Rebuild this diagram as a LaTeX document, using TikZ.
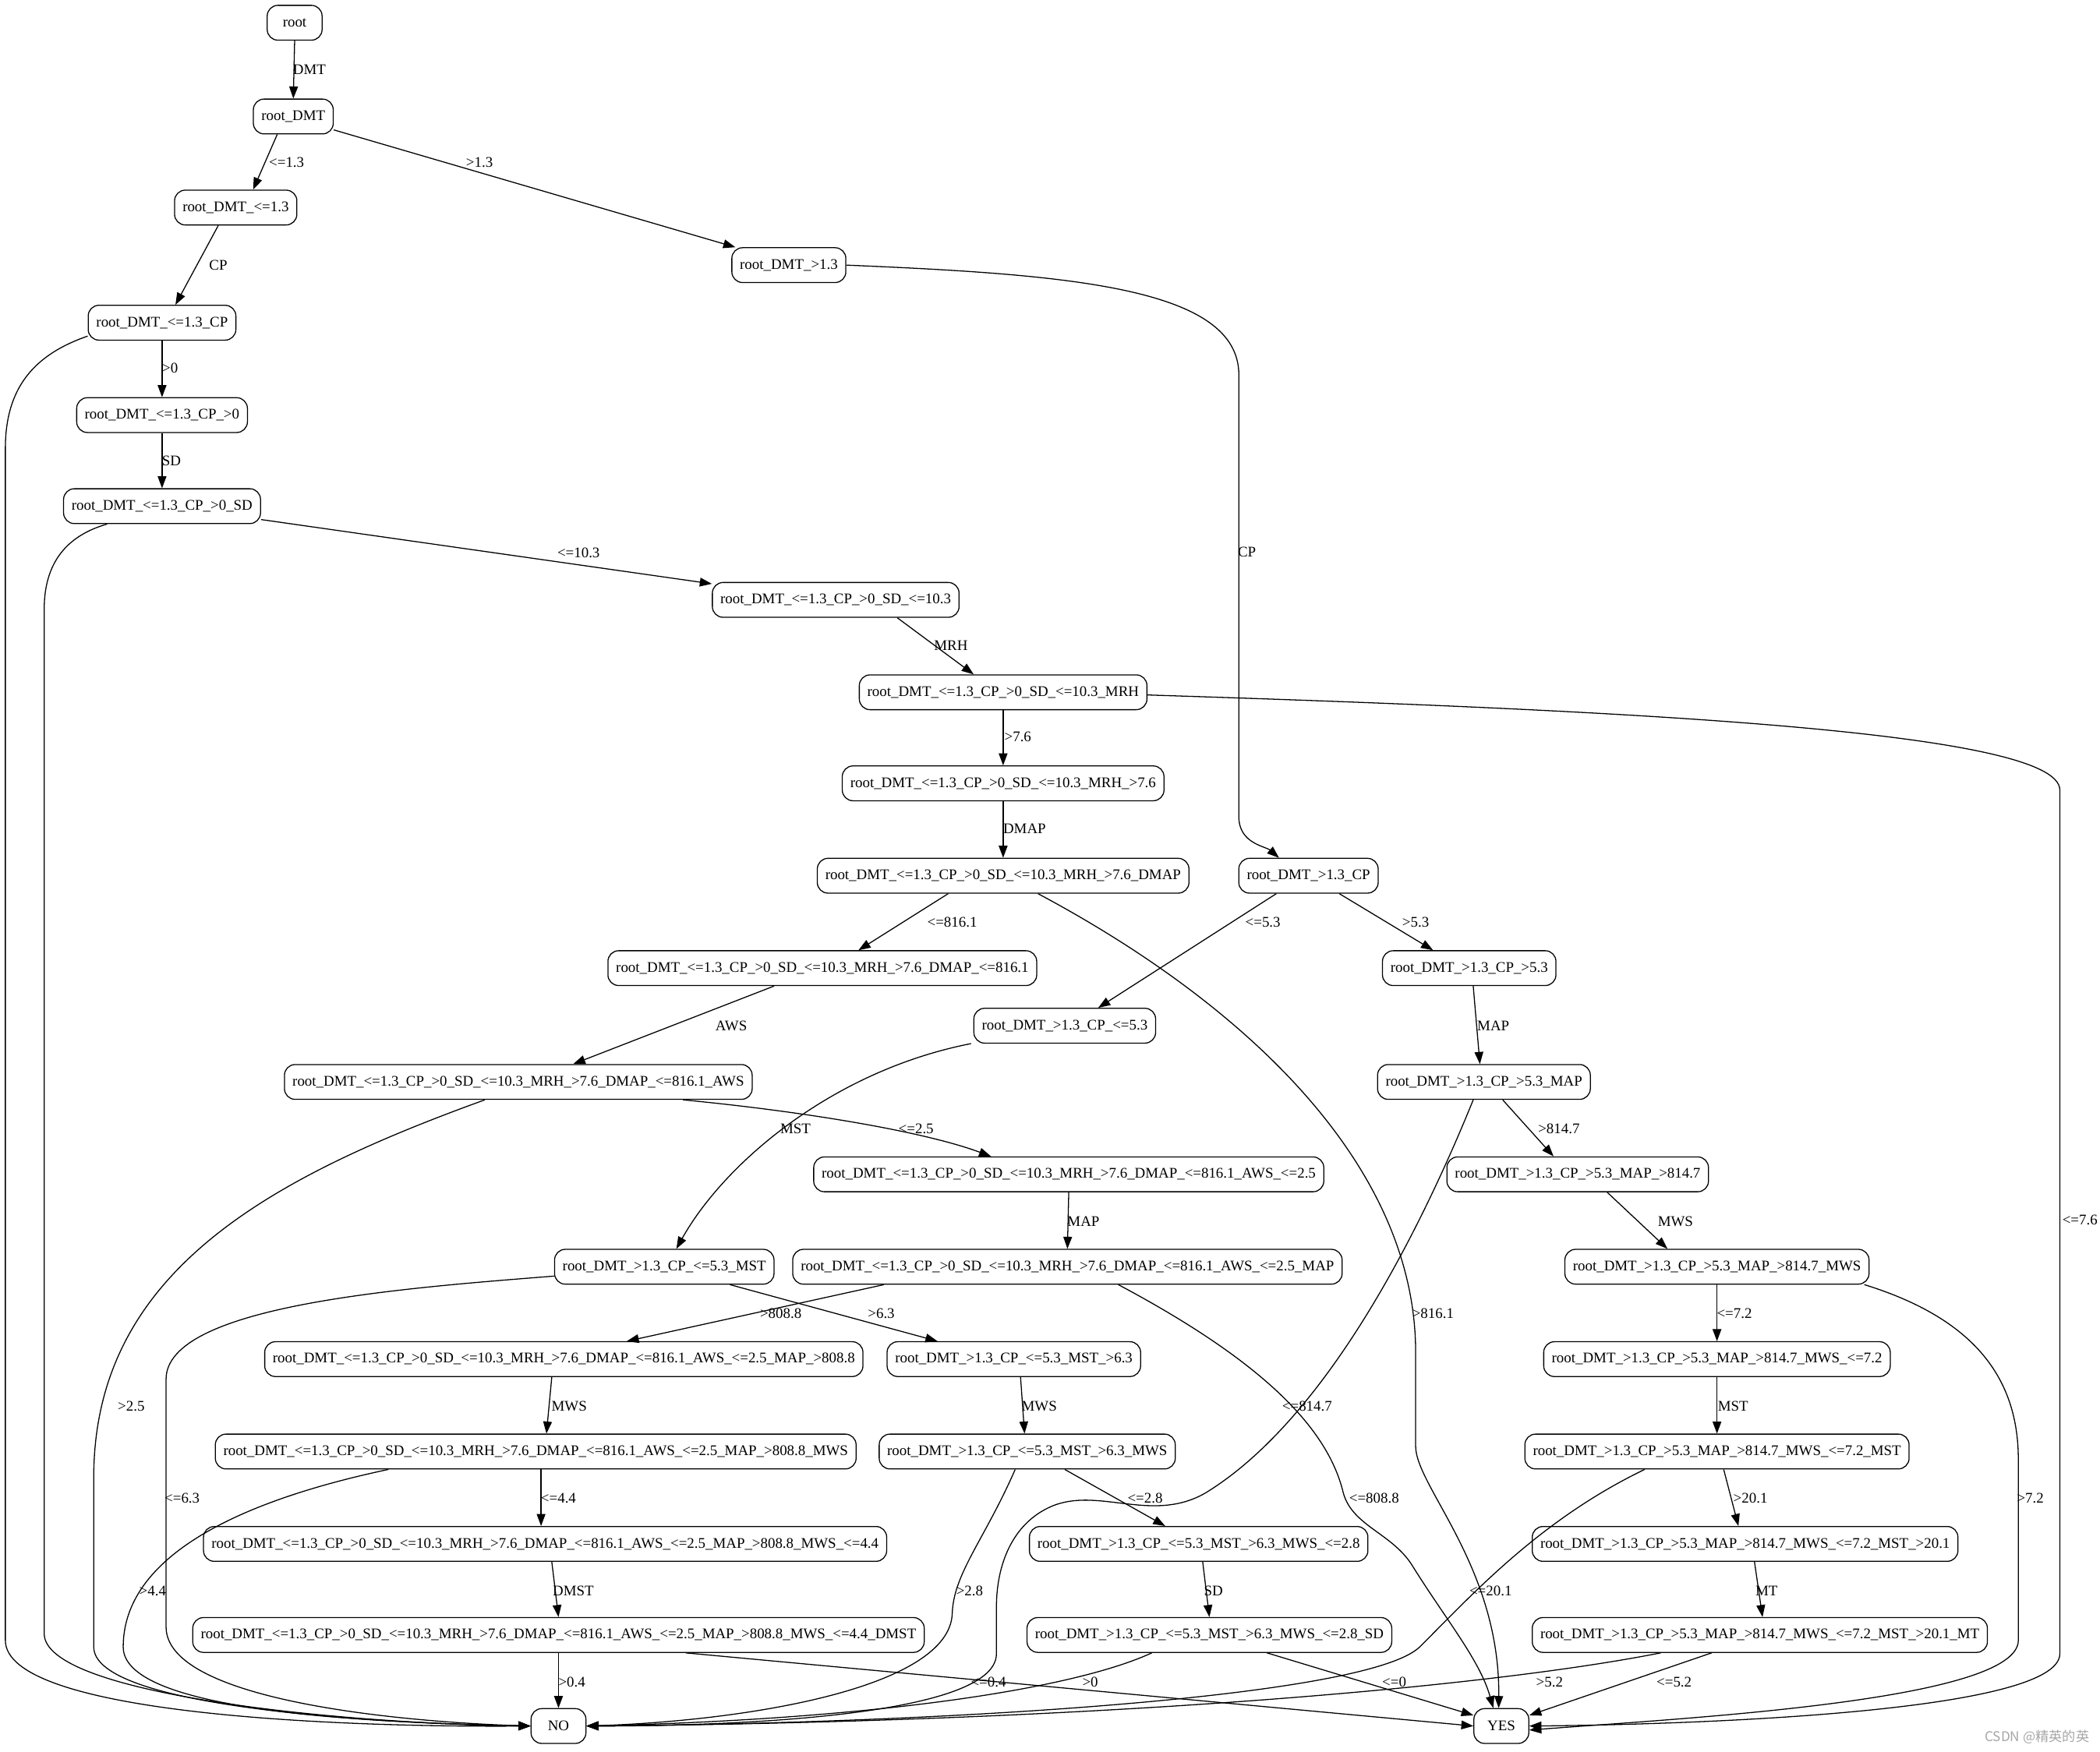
\documentclass[tikz,border=0pt]{standalone}
\usepackage{fontspec}
\setmainfont{Liberation Serif}
\newfontfamily\cjkfont{Noto Sans CJK SC}
\usetikzlibrary{arrows.meta}
\newcommand\pfxA{root\_DMT\_<=1.3\_CP\_>0\_SD\_<=10.3\_MRH\_>7.6\_DMAP}
\newcommand\pfxB{root\_DMT\_>1.3\_CP\_<=5.3\_MST\_>6.3}
\newcommand\pfxC{root\_DMT\_>1.3\_CP\_>5.3\_MAP\_>814.7\_MWS}
\tikzset{
  nd/.style={draw, line width=0.75pt, rounded corners=8pt, minimum height=26pt, minimum width=41pt, inner xsep=6pt, inner ysep=0pt, font=\fontsize{11}{13}\selectfont},
  lb/.style={inner sep=0pt, font=\fontsize{11}{13}\selectfont},
  ar/.style={line width=0.75pt, -{Triangle[length=9pt,width=6.5pt]}},
}
\begin{document}
\begin{tikzpicture}[x=1pt,y=-1pt]
\useasboundingbox (0,0) rectangle (1568,1308);
% nodes
\node[nd] (root) at (220,17) {root};
\node[nd] (dmt) at (219,87) {root\_DMT};
\node[nd] (a) at (176,155) {root\_DMT\_<=1.3};
\node[nd] (b) at (589,198) {root\_DMT\_>1.3};
\node[nd] (a1) at (121,241) {root\_DMT\_<=1.3\_CP};
\node[nd] (a2) at (121,310) {root\_DMT\_<=1.3\_CP\_>0};
\node[nd] (a3) at (121,378) {root\_DMT\_<=1.3\_CP\_>0\_SD};
\node[nd] (a4) at (624,448) {root\_DMT\_<=1.3\_CP\_>0\_SD\_<=10.3};
\node[nd] (a5) at (749,517) {root\_DMT\_<=1.3\_CP\_>0\_SD\_<=10.3\_MRH};
\node[nd] (a6) at (749,585) {root\_DMT\_<=1.3\_CP\_>0\_SD\_<=10.3\_MRH\_>7.6};
\node[nd] (a7) at (749,654) {\pfxA};
\node[nd] (a8) at (614,723) {\pfxA\_<=816.1};
\node[nd] (a9) at (387,808) {\pfxA\_<=816.1\_AWS};
\node[nd] (a10) at (798,877) {\pfxA\_<=816.1\_AWS\_<=2.5};
\node[nd] (a11) at (797,946) {\pfxA\_<=816.1\_AWS\_<=2.5\_MAP};
\node[nd] (a12) at (421,1015) {\pfxA\_<=816.1\_AWS\_<=2.5\_MAP\_>808.8};
\node[nd] (a13) at (400,1084) {\pfxA\_<=816.1\_AWS\_<=2.5\_MAP\_>808.8\_MWS};
\node[nd] (a14) at (407,1153) {\pfxA\_<=816.1\_AWS\_<=2.5\_MAP\_>808.8\_MWS\_<=4.4};
\node[nd] (a15) at (417,1221) {\pfxA\_<=816.1\_AWS\_<=2.5\_MAP\_>808.8\_MWS\_<=4.4\_DMST};
\node[nd] (b1) at (977,654) {root\_DMT\_>1.3\_CP};
\node[nd] (b2) at (795,766) {root\_DMT\_>1.3\_CP\_<=5.3};
\node[nd] (b3) at (496,946) {root\_DMT\_>1.3\_CP\_<=5.3\_MST};
\node[nd] (b4) at (757,1015) {\pfxB};
\node[nd] (b5) at (767,1084) {\pfxB\_MWS};
\node[nd] (b6) at (895,1153) {\pfxB\_MWS\_<=2.8};
\node[nd] (b7) at (903,1221) {\pfxB\_MWS\_<=2.8\_SD};
\node[nd] (c1) at (1097,723) {root\_DMT\_>1.3\_CP\_>5.3};
\node[nd] (c2) at (1108,808) {root\_DMT\_>1.3\_CP\_>5.3\_MAP};
\node[nd] (c3) at (1178,877) {root\_DMT\_>1.3\_CP\_>5.3\_MAP\_>814.7};
\node[nd] (c4) at (1282,946) {\pfxC};
\node[nd] (c5) at (1282,1015) {\pfxC\_<=7.2};
\node[nd] (c6) at (1282,1084) {\pfxC\_<=7.2\_MST};
\node[nd] (c7) at (1303,1153) {\pfxC\_<=7.2\_MST\_>20.1};
\node[nd] (c8) at (1314,1221) {\pfxC\_<=7.2\_MST\_>20.1\_MT};
\node[nd] (no) at (417,1289) {NO};
\node[nd] (yes) at (1121,1289) {YES};
% edge labels
\node[lb] (l1) at (231,52) {DMT};
\node[lb] (l2) at (214,121) {<=1.3};
\node[lb] (l3) at (358,121) {>1.3};
\node[lb] (l4) at (163,198) {CP};
\node[lb] (l5) at (931,412) {CP};
\node[lb] (l6) at (127,275) {>0};
\node[lb] (l7) at (128,344) {SD};
\node[lb] (l8) at (432,413) {<=10.3};
\node[lb] (l9) at (710,482) {MRH};
\node[lb] (l10) at (760,550) {>7.6};
\node[lb] (l11) at (765,619) {DMAP};
\node[lb] (l12) at (711,689) {<=816.1};
\node[lb] (l13) at (943,689) {<=5.3};
\node[lb] (l14) at (1057,689) {>5.3};
\node[lb] (l15) at (546,766) {AWS};
\node[lb] (l16) at (1115,766) {MAP};
\node[lb] (l17) at (594,843) {MST};
\node[lb] (l18) at (684,843) {<=2.5};
\node[lb] (l19) at (1164,843) {>814.7};
\node[lb] (l20) at (809,912) {MAP};
\node[lb] (l21) at (1251,912) {MWS};
\node[lb] (l22) at (1553,911) {<=7.6};
\node[lb] (l23) at (583,981) {>808.8};
\node[lb] (l24) at (658,981) {>6.3};
\node[lb] (l25) at (1070,981) {>816.1};
\node[lb] (l26) at (1295,981) {<=7.2};
\node[lb] (l27) at (98,1050) {>2.5};
\node[lb] (l28) at (425,1050) {MWS};
\node[lb] (l29) at (776,1050) {MWS};
\node[lb] (l30) at (976,1050) {<=814.7};
\node[lb] (l31) at (1294,1050) {MST};
\node[lb] (l32) at (136,1119) {<=6.3};
\node[lb] (l33) at (417,1119) {<=4.4};
\node[lb] (l34) at (855,1119) {<=2.8};
\node[lb] (l35) at (1026,1119) {<=808.8};
\node[lb] (l36) at (1307,1119) {>20.1};
\node[lb] (l37) at (1516,1119) {>7.2};
\node[lb] (l38) at (114,1188) {>4.4};
\node[lb] (l39) at (428,1188) {DMST};
\node[lb] (l40) at (724,1188) {>2.8};
\node[lb] (l41) at (906,1188) {SD};
\node[lb] (l42) at (1113,1188) {<=20.1};
\node[lb] (l43) at (1319,1188) {MT};
\node[lb] (l44) at (427,1256) {>0.4};
\node[lb] (l45) at (738,1256) {<=0.4};
\node[lb] (l46) at (814,1256) {>0};
\node[lb] (l47) at (1041,1256) {<=0};
\node[lb] (l48) at (1157,1256) {>5.2};
\node[lb] (l49) at (1250,1256) {<=5.2};
\node[inner sep=0pt, text=black!35, font=\cjkfont\fontsize{10}{12}\selectfont] (wm) at (1521,1297) {CSDN @精英的英};
% edges
\draw[ar] (root.south) -- (dmt.north);
\draw[ar] ([xshift=-12pt]dmt.south) -- ([xshift=13pt]a.north);
\draw[ar] ([yshift=-10pt]dmt.east) -- ([xshift=3pt]b.north west);
\draw[ar] ([xshift=-13pt]a.south) -- ([xshift=10pt]a1.north);
\draw[ar] (b.east) .. controls (800,205) and (925,215) .. (925,280) -- (925,610) .. controls (925,630) and (945,632) .. ([xshift=-22pt]b1.north);
\draw[ar] (a1.south) -- (a2.north);
\draw[ar] ([yshift=-10pt]a1.west) .. controls (25,265) and (4,290) .. (4,335) -- (4,1225) .. controls (4,1280) and (250,1290) .. (no.west);
\draw[ar] (a2.south) -- (a3.north);
\draw[ar] ([yshift=-10pt]a3.east) -- ([yshift=12pt]a4.west);
\draw[ar] ([xshift=-41pt]a3.south) .. controls (50,400) and (33,420) .. (33,455) -- (33,1220) .. controls (33,1265) and (250,1287) .. (no.west);
\draw[ar] ([xshift=46pt]a4.south) -- ([xshift=-22pt]a5.north);
\draw[ar] (a5.south) -- (a6.north);
\draw[ar] ([yshift=-2pt]a5.east) .. controls (1200,530) and (1538,545) .. (1538,590) -- (1538,1235) .. controls (1538,1280) and (1250,1288) .. (yes.east);
\draw[ar] (a6.south) -- (a7.north);
\draw[ar] ([xshift=-41pt]a7.south) -- ([xshift=27pt]a8.north);
\draw[ar] ([xshift=26pt]a7.south) .. controls (930,750) and (1057,870) .. (1057,1010) -- (1057,1080) .. controls (1057,1110) and (1120,1170) .. ([xshift=-2pt]yes.north);
\draw[ar] ([xshift=-24pt]b1.south) -- ([xshift=25pt]b2.north);
\draw[ar] ([xshift=23pt]b1.south) -- ([xshift=-27pt]c1.north);
\draw[ar] ([xshift=-36pt]a8.south) -- ([xshift=41pt]a9.north);
\draw[ar] ([xshift=123pt]a9.south) .. controls (600,830) and (690,845) .. ([xshift=-58pt]a10.north);
\draw[ar] ([xshift=-25pt]a9.south) .. controls (200,880) and (72,950) .. (70,1100) -- (70,1230) .. controls (70,1275) and (280,1287) .. (no.west);
\draw[ar] ([xshift=3pt]c1.south) -- ([xshift=-3pt]c2.north);
\draw[ar] ([xshift=-70pt]b2.south) .. controls (620,800) and (540,870) .. ([xshift=9pt]b3.north);
\draw[ar] ([xshift=14pt]c2.south) -- ([xshift=-18pt]c3.north);
\draw[ar] ([xshift=-8pt]c2.south) .. controls (1060,920) and (990,1060) .. (900,1115) .. controls (860,1138) and (820,1110) .. (785,1125) .. controls (755,1138) and (744,1170) .. (744,1200) -- (744,1235) .. controls (744,1285) and (520,1289) .. (no.east);
\draw[ar] (a10.south) -- (a11.north);
\draw[ar] ([xshift=22pt]c3.south) -- ([xshift=-37pt]c4.north);
\draw[ar] ([xshift=49pt]b3.south) -- ([xshift=-57pt]b4.north);
\draw[ar] ([yshift=-7pt]b3.west) .. controls (300,962) and (124,975) .. (124,1030) -- (124,1215) .. controls (124,1270) and (300,1286) .. (no.west);
\draw[ar] ([xshift=-137pt]a11.south) -- ([xshift=47pt]a12.north);
\draw[ar] ([xshift=38pt]a11.south) .. controls (930,1010) and (990,1060) .. (1003,1115) .. controls (1010,1140) and (1040,1145) .. (1055,1170) .. controls (1080,1210) and (1105,1240) .. ([xshift=-6pt]yes.north);
\draw[ar] (c4.south) -- (c5.north);
\draw[ar] ([xshift=110pt]c4.south) .. controls (1475,985) and (1507,1030) .. (1507,1090) -- (1507,1225) .. controls (1507,1270) and (1260,1283) .. ([yshift=-3pt]yes.east);
\draw[ar] ([xshift=-9pt]a12.south) -- ([xshift=8pt]a13.north);
\draw[ar] ([xshift=5pt]b4.south) -- ([xshift=-2pt]b5.north);
\draw[ar] (c5.south) -- (c6.north);
\draw[ar] ([xshift=4pt]a13.south) -- ([xshift=-3pt]a14.north);
\draw[ar] ([xshift=-110pt]a13.south) .. controls (160,1125) and (92,1170) .. (92,1230) .. controls (92,1275) and (250,1286) .. (no.west);
\draw[ar] ([xshift=28pt]b5.south) -- ([xshift=-25pt]b6.north);
\draw[ar] ([xshift=-9pt]b5.south) .. controls (735,1150) and (712,1175) .. (711,1205) .. controls (709,1260) and (560,1285) .. (no.east);
\draw[ar] ([xshift=5pt]c6.south) -- ([xshift=-5pt]c7.north);
\draw[ar] ([xshift=-54pt]c6.south) .. controls (1150,1135) and (1100,1190) .. (1060,1230) .. controls (1020,1268) and (700,1287) .. (no.east);
\draw[ar] ([xshift=5pt]a14.south) -- (a15.north);
\draw[ar] ([xshift=3pt]b6.south) -- (b7.north);
\draw[ar] ([xshift=7pt]c7.south) -- ([xshift=2pt]c8.north);
\draw[ar] (a15.south) -- (no.north);
\draw[ar] ([xshift=95pt]a15.south) -- (yes.west);
\draw[ar] ([xshift=-43pt]b7.south) .. controls (800,1262) and (650,1284) .. (no.east);
\draw[ar] ([xshift=43pt]b7.south) -- ([yshift=8pt]yes.west);
\draw[ar] ([xshift=-74pt]c8.south) .. controls (1100,1262) and (800,1286) .. (no.east);
\draw[ar] ([xshift=-36pt]c8.south) -- ([yshift=8pt]yes.east);
\end{tikzpicture}
\end{document}
